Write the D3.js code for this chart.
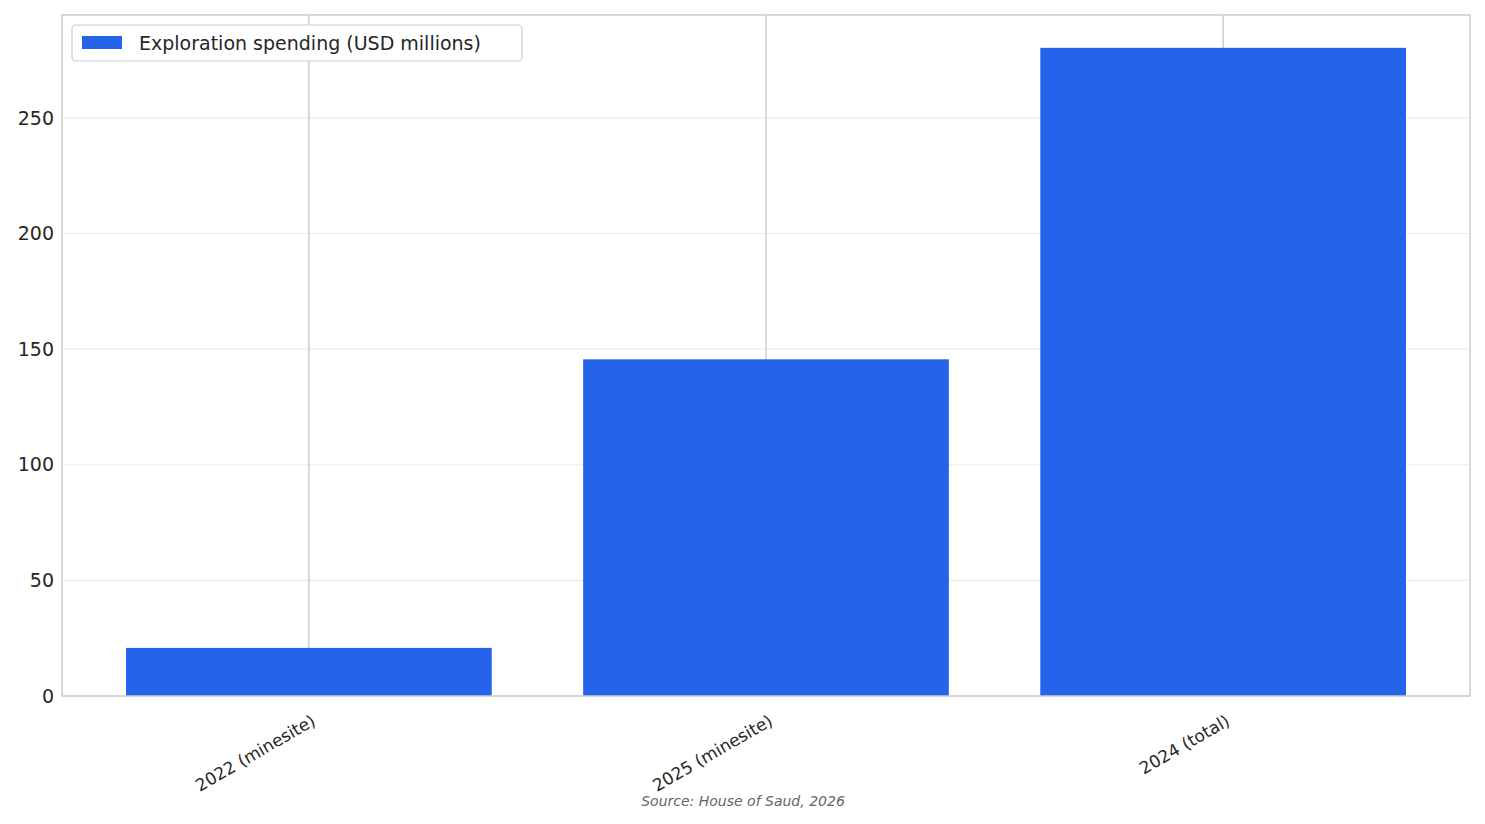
<!DOCTYPE html>
<html><head><meta charset="utf-8">
<script src="https://cdn.jsdelivr.net/npm/d3@7"></script>
<style>body{margin:0;background:#fff}svg{font-family:"DejaVu Sans",sans-serif}</style>
</head><body><svg id="c" width="1485" height="824"></svg>
<script>
const categories = ["2022 (minesite)", "2025 (minesite)", "2024 (total)"];
const values = [20.8, 145.6, 280.3];
const yTicks = [0, 50, 100, 150, 200, 250];
const seriesName = "Exploration spending (USD millions)";
const source = "Source: House of Saud, 2026";

const svg = d3.select("#c");
const L=62,R=1470,T=15,B=696;
const x = d3.scaleLinear().domain([-0.54, 2.54]).range([L,R]);
const y = d3.scaleLinear().domain([0, 294.5]).range([B,T]);
const bw = x(0.4)-x(-0.4);

svg.append("g").selectAll("line").data(yTicks).join("line")
  .attr("x1",L).attr("x2",R).attr("y1",d=>y(d)).attr("y2",d=>y(d))
  .attr("stroke","#ebebeb").attr("stroke-width",1.2);
svg.append("g").selectAll("line").data(categories).join("line")
  .attr("x1",(d,i)=>x(i)).attr("x2",(d,i)=>x(i)).attr("y1",T).attr("y2",B)
  .attr("stroke","#cccccc").attr("stroke-width",1.5);

svg.append("g").selectAll("rect").data(values).join("rect")
  .attr("x",(d,i)=>x(i)-bw/2).attr("width",bw)
  .attr("y",d=>y(d)).attr("height",d=>B-y(d)).attr("fill","#2563eb");

svg.append("rect").attr("x",L).attr("y",T).attr("width",R-L).attr("height",B-T)
  .attr("fill","none").attr("stroke","#cccccc").attr("stroke-width",1.5);

svg.append("g").selectAll("text").data(yTicks).join("text")
  .attr("x",L-8).attr("y",d=>y(d)).attr("dy","0.35em").attr("text-anchor","end")
  .attr("font-size",19).attr("fill","#262626").text(d=>d);

svg.append("g").selectAll("text").data(categories).join("text")
  .attr("transform",(d,i)=>`translate(${x(i)+2},${B+18}) rotate(-30)`)
  .attr("text-anchor","end").attr("dy","0.7em")
  .attr("font-size",17).attr("fill","#262626").text(d=>d);

const lg = svg.append("g");
lg.append("rect").attr("x",72).attr("y",25).attr("width",450).attr("height",36).attr("rx",4)
  .attr("fill","#fff").attr("stroke","#cccccc").attr("stroke-width",1.2);
lg.append("rect").attr("x",82).attr("y",36).attr("width",40).attr("height",13).attr("fill","#2563eb");
lg.append("text").attr("x",139).attr("y",43).attr("dy","0.35em").attr("font-size",19)
  .attr("fill","#262626").text(seriesName);

svg.append("text").attr("x",743).attr("y",801).attr("dy","0.35em").attr("text-anchor","middle")
  .attr("font-size",14).attr("font-style","italic").attr("fill","#666").text(source);
</script></body></html>
